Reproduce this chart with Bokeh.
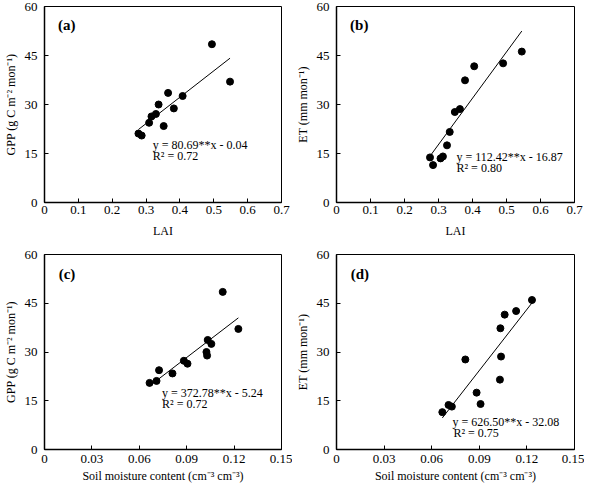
from bokeh.plotting import figure
from bokeh.models import Range1d, FixedTicker, Label
from bokeh.layouts import column, row
from bokeh.embed import file_html
from bokeh.resources import INLINE

# ---- data ----
lai_a = [0.4945, 0.548, 0.408, 0.365, 0.337, 0.382, 0.329, 0.316, 0.309, 0.352, 0.2775, 0.287]
gpp_a = [48.45, 37.0, 32.6, 33.55, 30.0, 28.8, 27.1, 26.35, 24.4, 23.4, 21.1, 20.5]

lai_b = [0.545, 0.490, 0.405, 0.378, 0.363, 0.348, 0.333, 0.325, 0.313, 0.306, 0.275, 0.284]
et_b = [46.2, 42.6, 41.7, 37.4, 28.6, 27.7, 21.6, 17.5, 14.1, 13.5, 13.8, 11.45]

smc_c = [0.1128, 0.1227, 0.1056, 0.1033, 0.1025, 0.1029, 0.0882, 0.0905, 0.0725, 0.0810, 0.0709, 0.0665]
gpp_c = [48.5, 37.1, 32.5, 33.7, 30.0, 28.9, 27.3, 26.4, 24.4, 23.4, 21.1, 20.5]

smc_d = [0.1232, 0.1132, 0.1060, 0.1033, 0.1037, 0.0812, 0.1030, 0.0883, 0.0908, 0.0706, 0.0727, 0.0667]
et_d = [46.0, 42.6, 41.5, 37.3, 28.6, 27.7, 21.5, 17.5, 14.0, 13.7, 13.2, 11.5]

# fitted lines as drawn in the reference
line_slopes = [80.69, 141.8, 372.78, 626.50]
line_intercepts = [-0.04, -24.8, -5.24, -32.08]

eq_texts = ["y = 80.69**x - 0.04", "y = 112.42**x - 16.87",
            "y = 372.78**x - 5.24", "y = 626.50**x - 32.08"]
r2_texts = ["R² = 0.72", "R² = 0.80", "R² = 0.72", "R² = 0.75"]
panel_labels = ["(a)", "(b)", "(c)", "(d)"]

lai_ticks = [0, 0.1, 0.2, 0.3, 0.4, 0.5, 0.6, 0.7]
lai_tick_labels = ["0", "0.1", "0.2", "0.3", "0.4", "0.5", "0.6", "0.7"]
smc_ticks = [0, 0.03, 0.06, 0.09, 0.12, 0.15]
smc_tick_labels = ["0", "0.03", "0.06", "0.09", "0.12", "0.15"]
y_ticks = [0, 15, 30, 45, 60]
y_tick_labels = ["0", "15", "30", "45", "60"]

GPP_LABEL = "GPP (g C m⁻² mon⁻¹)"
ET_LABEL = "ET (mm mon⁻¹)"
LAI_LABEL = "LAI"
SMC_LABEL = "Soil moisture content (cm⁻³ cm⁻³)"

FONT = "Liberation Serif"


def make_panel(xs, ys, k, xticks, xlabels, xlabel, ylabel,
               width, height, borders, plabel_xy, eq_xy, r2_xy, tick_standoff, label_standoff):
    bl, br, bt, bb = borders
    p = figure(width=width, height=height,
               x_range=Range1d(xticks[0], xticks[-1]), y_range=Range1d(y_ticks[0], y_ticks[-1]),
               output_backend="svg", toolbar_location=None,
               min_border_left=bl, min_border_right=br, min_border_top=bt, min_border_bottom=bb)
    p.grid.visible = False
    p.outline_line_color = "black"
    p.outline_line_width = 1
    p.background_fill_color = "white"
    p.border_fill_color = "white"

    p.scatter(xs, ys, size=7, color="black")
    x0, x1 = min(xs), max(xs)
    p.line([x0, x1], [line_slopes[k] * x0 + line_intercepts[k], line_slopes[k] * x1 + line_intercepts[k]],
           line_color="black", line_width=1)

    p.xaxis.ticker = FixedTicker(ticks=xticks)
    p.xaxis.major_label_overrides = {t: l for t, l in zip(xticks, xlabels)}
    p.yaxis.ticker = FixedTicker(ticks=y_ticks)
    p.yaxis.major_label_overrides = {t: l for t, l in zip(y_ticks, y_tick_labels)}
    p.xaxis.axis_label = xlabel
    p.yaxis.axis_label = ylabel
    for ax in (p.xaxis, p.yaxis):
        ax.axis_line_color = "black"
        ax.axis_line_width = 1.5
        ax.major_tick_in = 4
        ax.major_tick_out = 0
        ax.major_tick_line_color = "black"
        ax.minor_tick_line_color = None
        ax.major_label_text_font = FONT
        ax.major_label_text_font_size = "13px"
        ax.major_label_text_color = "black"
        ax.axis_label_text_font = FONT
        ax.axis_label_text_font_size = "12px"
        ax.axis_label_text_font_style = "normal"
        ax.axis_label_text_color = "black"
    p.xaxis.major_label_standoff = tick_standoff
    p.yaxis.major_label_standoff = 7
    p.xaxis.axis_label_standoff = label_standoff
    p.yaxis.axis_label_standoff = 4

    p.add_layout(Label(x=plabel_xy[0], y=plabel_xy[1], text=panel_labels[k], text_font=FONT,
                       text_font_size="15px", text_font_style="bold", text_color="black",
                       text_baseline="middle", text_align="left"))
    p.add_layout(Label(x=eq_xy[0], y=eq_xy[1], text=eq_texts[k], text_font=FONT,
                       text_font_size="12px", text_color="black",
                       text_baseline="middle", text_align="left"))
    p.add_layout(Label(x=r2_xy[0], y=r2_xy[1], text=r2_texts[k], text_font=FONT,
                       text_font_size="12px", text_color="black",
                       text_baseline="middle", text_align="left"))
    return p


pa = make_panel(lai_a, gpp_a, 0, lai_ticks, lai_tick_labels, LAI_LABEL, GPP_LABEL,
                292, 240, (38, 11, 6, 38), (0.04, 54.2), (0.32, 17.7), (0.32, 14.2), 3, 7)
pb = make_panel(lai_b, et_b, 1, lai_ticks, lai_tick_labels, LAI_LABEL, ET_LABEL,
                292, 240, (44, 10, 6, 38), (0.04, 54.2), (0.353, 14.0), (0.353, 10.7), 3, 7)
pc = make_panel(smc_c, gpp_c, 2, smc_ticks, smc_tick_labels, SMC_LABEL, GPP_LABEL,
                292, 247, (38, 11, 14, 38), (0.009, 54.0), (0.0744, 17.4), (0.0744, 14.0), 5, 3)
pd = make_panel(smc_d, et_d, 3, smc_ticks, smc_tick_labels, SMC_LABEL, ET_LABEL,
                292, 247, (44, 10, 14, 38), (0.009, 54.0), (0.0731, 8.5), (0.0737, 5.0), 5, 3)

layout = column(row(pa, pb, spacing=0), row(pc, pd, spacing=0), spacing=0)

open("out.html", "w").write(file_html(layout, INLINE))
